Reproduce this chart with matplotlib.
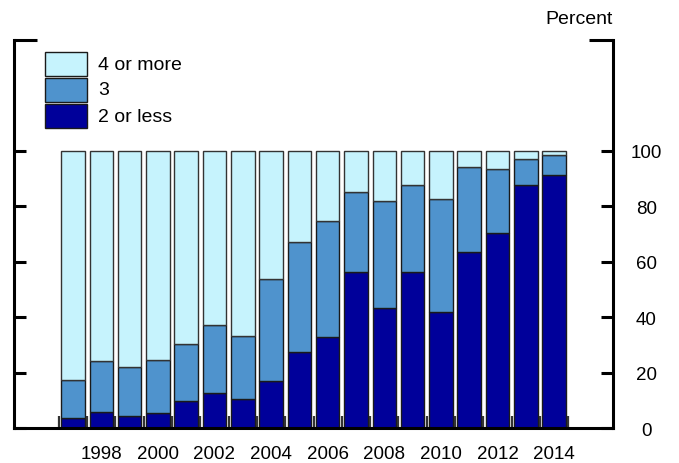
import matplotlib
matplotlib.use("Agg")
import matplotlib.pyplot as plt
import numpy as np
from matplotlib.patches import Rectangle

plt.rcParams["font.family"] = ["Liberation Sans", "DejaVu Sans"]

years = list(range(1997, 2015))
# share by number of items, percent (cumulative tops)
two_or_less = [3.6, 5.8, 4.3, 5.4, 9.9, 12.9, 10.6, 17.1, 27.5, 32.8,
               56.5, 43.5, 56.4, 42.0, 63.4, 70.5, 87.7, 91.2]
three_top = [17.5, 24.3, 22.1, 24.7, 30.5, 37.4, 33.2, 53.7, 67.3, 74.9,
             85.1, 81.9, 87.7, 82.6, 94.1, 93.6, 97.2, 98.7]
three = [t - b for t, b in zip(three_top, two_or_less)]
four_or_more = [100 - t for t in three_top]

labels = ["4 or more", "3", "2 or less"]
colors = {"4 or more": "#C6F3FD", "3": "#4F93CD", "2 or less": "#00009A"}
xtick_years = list(range(1998, 2015, 2))
ytick_vals = [0, 20, 40, 60, 80, 100]

W, H = 679, 464
fig = plt.figure(figsize=(W / 100, H / 100), dpi=100)
ax = fig.add_axes([13.5 / W, 1 - 429.3 / H, (613.3 - 13.5) / W, (429.3 - 41) / H])

x = np.array(years)
bw = 0.83
edge = "#1a1a1a"
ax.bar(x, two_or_less, bw, color=colors["2 or less"], edgecolor=edge, linewidth=1.0)
ax.bar(x, three, bw, bottom=two_or_less, color=colors["3"], edgecolor=edge, linewidth=1.0)
ax.bar(x, four_or_more, bw, bottom=three_top, color=colors["4 or more"], edgecolor="#333333", linewidth=1.0)

ax.set_xlim(1994.9, 2016.09)
ax.set_ylim(0, 140)

for s in ["left", "right", "bottom"]:
    ax.spines[s].set_linewidth(2.2)
ax.spines["top"].set_visible(False)
# short brackets at the top corners
ax.plot([0, 24 / 600], [1, 1], transform=ax.transAxes, color="black", lw=2.2,
        clip_on=False, solid_capstyle="butt")
ax.plot([1 - 24 / 600, 1], [1, 1], transform=ax.transAxes, color="black", lw=2.2,
        clip_on=False, solid_capstyle="butt")

ax.set_yticks(ytick_vals)
ax.yaxis.set_ticks_position("both")
ax.tick_params(axis="y", direction="in", length=8.5, width=2.2, labelleft=False,
               labelright=True, labelsize=13.5, pad=23.8)
for t in ax.get_yticklabels():
    t.set_horizontalalignment("center")

ax.set_xticks(xtick_years)
ax.set_xticklabels([str(y) for y in xtick_years])
ax.set_xticks(np.arange(1996.5, 2015, 1.0), minor=True)
ax.tick_params(axis="x", which="major", length=0, labelsize=13.5, pad=12)
ax.tick_params(axis="x", which="minor", direction="in", length=8.5, width=1.6,
               color="#333333")

fig.text(613 / W, 1 - 20 / H, "Percent", ha="right", va="center", fontsize=14)

# legend: stacked swatches touching each other, text to the right
for i, lab in enumerate(labels):
    top = 53 + 26 * i
    fig.patches.append(Rectangle((45 / W, 1 - (top + 24) / H), 42 / W, 24 / H,
                                 transform=fig.transFigure, facecolor=colors[lab],
                                 edgecolor=edge, linewidth=1.0))
    fig.text(98 / W, 1 - (top + 12) / H, lab, ha="left", va="center", fontsize=14)

fig.savefig("out.png", dpi=100)
